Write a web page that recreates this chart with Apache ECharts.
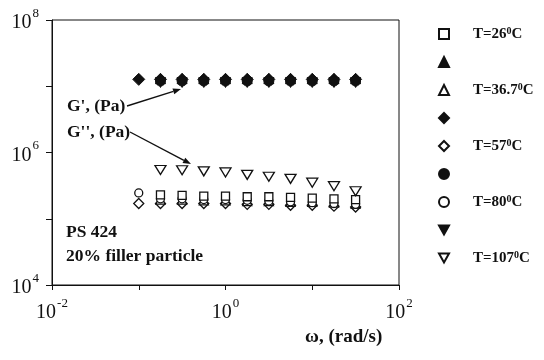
<!DOCTYPE html>
<html>
<head>
<meta charset="utf-8">
<script src="https://cdn.jsdelivr.net/npm/echarts@6/dist/echarts.min.js"></script>
<style>
  html, body { margin: 0; padding: 0; background: #fff; }
  #chart { width: 544px; height: 360px; }
</style>
</head>
<body>
<div id="chart"></div>
<script>
// frequency (rad/s)
const omega = [0.1, 0.178, 0.316, 0.562, 1.0, 1.78, 3.16, 5.62, 10, 17.8, 31.6]

// G' (Pa), filled markers
const gp36 = [null, 1.3e7, 1.3e7, 1.3e7, 1.3e7, 1.3e7, 1.3e7, 1.3e7, 1.3e7, 1.3e7, 1.3e7]
const gp57 = [1.27e7, 1.27e7, 1.27e7, 1.27e7, 1.27e7, 1.27e7, 1.27e7, 1.27e7, 1.27e7, 1.27e7, 1.27e7]
const gp80 = [null, 1.2e7, 1.2e7, 1.2e7, 1.2e7, 1.2e7, 1.2e7, 1.2e7, 1.2e7, 1.2e7, 1.2e7]
const gp107 = [null, 1.14e7, 1.14e7, 1.14e7, 1.14e7, 1.14e7, 1.14e7, 1.14e7, 1.14e7, 1.14e7, 1.14e7]

// G'' (Pa), open markers
const gpp26 = [null, 2.3e5, 2.25e5, 2.2e5, 2.2e5, 2.15e5, 2.15e5, 2.1e5, 2.05e5, 2.0e5, 1.95e5]
const gpp36 = [null, 1.95e5, 1.95e5, 1.9e5, 1.9e5, 1.85e5, 1.85e5, 1.8e5, 1.8e5, 1.75e5, 1.7e5]
const gpp57 = [1.7e5, 1.7e5, 1.7e5, 1.7e5, 1.7e5, 1.65e5, 1.65e5, 1.6e5, 1.6e5, 1.55e5, 1.5e5]
const gpp80 = [2.45e5, 2.0e5, 2.0e5, 1.95e5, 1.95e5, 1.9e5, 1.85e5, 1.8e5, 1.75e5, 1.7e5, 1.65e5]
const gpp107 = [null, 5.45e5, 5.4e5, 5.2e5, 5.0e5, 4.6e5, 4.3e5, 4.0e5, 3.5e5, 3.1e5, 2.6e5]

// legend order, as in the figure
const legendNames = ['T=26', "G' 36.7", 'T=36.7', "G' 57", 'T=57', "G' 80", 'T=80', "G' 107", 'T=107']

const FONT = '"Liberation Serif", "DejaVu Serif", serif'
const downTri = 'path://M0,0L10,0L5,9Z'

function pts(vals) {
  const out = []
  vals.forEach((v, i) => {
    if (v !== null) out.push([omega[i], v])
  })
  return out
}

function openSeries(name, symbol, size, vals) {
  return {
    name: name,
    type: 'scatter',
    symbol: symbol,
    symbolSize: size,
    itemStyle: { color: '#fff', borderColor: '#111', borderWidth: 1.3, opacity: 1 },
    data: pts(vals)
  }
}

function filledSeries(name, symbol, size, vals) {
  return {
    name: name,
    type: 'scatter',
    symbol: symbol,
    symbolSize: size,
    itemStyle: { color: '#111', borderColor: '#111', borderWidth: 1, opacity: 1 },
    data: pts(vals)
  }
}

function expLabel(v) {
  const e = Math.round(Math.log10(v))
  return '{b|10}{sup|' + (e < 0 ? '-' + (-e) : e) + '}'
}

const labelRich = {
  b: { fontFamily: FONT, fontSize: 20, color: '#111', lineHeight: 26, verticalAlign: 'bottom' },
  sup: { fontFamily: FONT, fontSize: 13, color: '#111', lineHeight: 26, verticalAlign: 'top', padding: [0, 0, 0, 1] }
}

function arrow(x1, y1, x2, y2) {
  const a = Math.atan2(y2 - y1, x2 - x1)
  const L = 8, W = 3
  const bx = x2 - L * Math.cos(a), by = y2 - L * Math.sin(a)
  const px = -Math.sin(a) * W, py = Math.cos(a) * W
  return [
    { type: 'line', shape: { x1: x1, y1: y1, x2: bx, y2: by }, style: { stroke: '#111', lineWidth: 1.4 } },
    { type: 'polygon', shape: { points: [[x2, y2], [bx + px, by + py], [bx - px, by - py]] }, style: { fill: '#111' } }
  ]
}

function txt(x, y, s, size) {
  return {
    type: 'text', left: x, top: y,
    style: { text: s, fontFamily: FONT, fontSize: size || 17.5, fontWeight: 'bold', fill: '#111' }
  }
}

const chart = echarts.init(document.getElementById('chart'))

const option = {
  backgroundColor: '#fff',
  animation: false,
  grid: {
    left: 52, top: 20, right: 145, bottom: 75,
    show: true, borderColor: '#111', borderWidth: 1
  },
  legend: {
    data: legendNames,
    orient: 'vertical',
    left: 433,
    top: 21,
    itemWidth: 10,
    itemHeight: 10,
    itemGap: 12,
    selectedMode: false,
    formatter: function (name) {
      if (name.indexOf('T=') === 0) {
        return name + '{sup|0}C'
      }
      return ' '
    },
    textStyle: {
      fontFamily: FONT, fontSize: 15, fontWeight: 'bold', color: '#111',
      lineHeight: 16, padding: [0, 0, 0, 19],
      rich: {
        sup: { fontFamily: FONT, fontSize: 10, fontWeight: 'bold', color: '#111', verticalAlign: 'top', lineHeight: 16 }
      }
    }
  },
  xAxis: {
    type: 'log',
    logBase: 10,
    min: 0.01,
    max: 100,
    axisLine: { lineStyle: { color: '#111', width: 1 } },
    axisTick: { length: 5, lineStyle: { color: '#111' } },
    splitLine: { show: false },
    axisLabel: {
      margin: 12,
      formatter: function (v) {
        const e = Math.round(Math.log10(v))
        return e % 2 === 0 ? expLabel(v) : ''
      },
      rich: labelRich
    }
  },
  yAxis: {
    type: 'log',
    logBase: 10,
    min: 1e4,
    max: 1e8,
    axisLine: { show: true, lineStyle: { color: '#111', width: 1 } },
    axisTick: { show: true, length: 6, lineStyle: { color: '#111' } },
    splitLine: { show: false },
    axisLabel: {
      margin: 13,
      formatter: function (v) {
        const e = Math.round(Math.log10(v))
        return e % 2 === 0 ? expLabel(v) : ''
      },
      rich: labelRich
    }
  },
  series: [
    filledSeries("G' 57", 'diamond', 12, gp57),
    filledSeries("G' 36.7", 'triangle', 10, gp36),
    filledSeries("G' 80", 'circle', 10, gp80),
    filledSeries("G' 107", downTri, 10, gp107),
    openSeries('T=57', 'diamond', 10, gpp57),
    openSeries('T=36.7', 'triangle', 9, gpp36),
    openSeries('T=80', 'circle', 8, gpp80),
    openSeries('T=26', 'rect', 8, gpp26),
    openSeries('T=107', downTri, [11, 9], gpp107)
  ],
  graphic: [
    txt(67, 97, "G', (Pa)"),
    txt(67, 123, "G'', (Pa)"),
    txt(66, 223, 'PS 424'),
    txt(66, 247, '20% filler particle'),
    txt(305, 328, 'ω, (rad/s)', 19)
  ].concat(arrow(127, 106, 181, 89), arrow(130, 132, 191, 164))
}

chart.setOption(option)
</script>
</body>
</html>
